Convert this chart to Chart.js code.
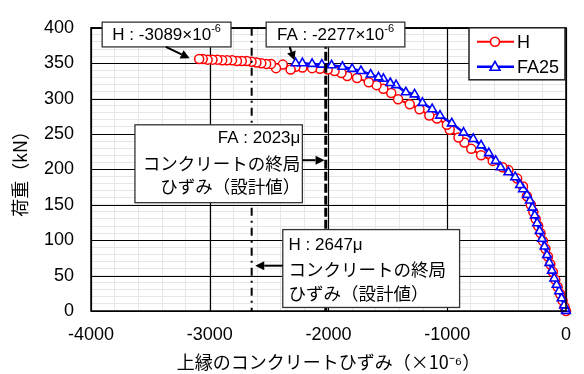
<!DOCTYPE html>
<html>
<head>
<meta charset="utf-8">
<script src="https://cdn.jsdelivr.net/npm/chart.js@4.4.1/dist/chart.umd.min.js"></script>
<style>
    html, body { margin: 0; padding: 0; background: #fff; }
    #wrap { width: 584px; height: 374px; }
</style>
</head>
<body>
<div id="wrap"><canvas id="chart"></canvas></div>
<script>
// specimen H (red circles), loading order
const strainH = [0, -12, -29, -49, -70, -90, -111, -132, -152, -173, -194, -214, -234, -255, -275, -296, -329, -362,
    -411, -485, -535, -617, -715, -798, -855, -905, -979, -1003, -1086, -1151, -1234, -1316, -1414, -1472, -1538,
    -1595, -1661, -1760, -1842, -1891, -1949, -2007, -2072, -2138, -2220, -2278, -2319, -2385, -2442, -2484, -2525,
    -2566, -2607, -2648, -2689, -2730, -2771, -2812, -2854, -2895, -2936, -2977, -3018, -3059, -3089];
const loadH = [0, 6, 15, 24, 34, 44, 55, 66, 77, 88, 99, 110, 120, 130, 140, 150, 162, 176,
    187, 199, 203, 212, 220, 229, 238, 245, 256, 263, 272, 276, 285, 292, 299, 308, 314,
    319, 323, 329, 332, 336, 339, 341, 342, 343, 344, 345, 341, 348, 343, 349, 349,
    350, 351, 352, 353, 353, 353, 354, 354, 354, 355, 355, 355, 356, 356];

// specimen FA25 (blue triangles), loading order
const strainFA = [0, -5, -16, -37, -58, -79, -99, -119, -140, -160, -181, -202, -222, -243, -263, -283, -304, -329,
    -362, -387, -428, -485, -551, -592, -650, -715, -781, -863, -962, -1061, -1127, -1209, -1275, -1349, -1431,
    -1480, -1538, -1579, -1645, -1727, -1801, -1883, -1974, -2056, -2138, -2220, -2277];
const loadFA = [0, 3, 8, 18, 28, 37, 46, 57, 68, 79, 91, 102, 113, 124, 135, 146, 156, 164,
    172, 178, 189, 196, 203, 212, 223, 234, 243, 252, 265, 276, 285, 294, 306, 309, 319,
    322, 328, 330, 334, 339, 342, 345, 347, 348, 349, 350, 350];

const seriesNames = ['H', 'FA25'];
const ultimateH = -2647;   // design ultimate strain, H
const ultimateFA = -2023;  // design ultimate strain, FA
const peakH = [-3089, 356];
const peakFA = [-2277, 350];
const majorX = 1000, majorY = 50;

const numFont = '"Liberation Sans", Arial, sans-serif';
const jpFont = '"Noto Sans CJK JP", sans-serif';

function drawArrow(ctx, x0, y0, x1, y1) {
    const ang = Math.atan2(y1 - y0, x1 - x0);
    const len = 9, hw = 4.5;
    const bx = x1 - len * Math.cos(ang), by = y1 - len * Math.sin(ang);
    ctx.beginPath();
    ctx.moveTo(x0, y0);
    ctx.lineTo(bx, by);
    ctx.lineWidth = 2;
    ctx.strokeStyle = '#000';
    ctx.stroke();
    ctx.beginPath();
    ctx.moveTo(x1, y1);
    ctx.lineTo(bx + hw * Math.sin(ang), by - hw * Math.cos(ang));
    ctx.lineTo(bx - hw * Math.sin(ang), by + hw * Math.cos(ang));
    ctx.closePath();
    ctx.fillStyle = '#000';
    ctx.fill();
}

function drawBox(ctx, x, y, x1, x2, y1, y2) {
    const l = x.getPixelForValue(x1), r = x.getPixelForValue(x2);
    const t = y.getPixelForValue(y2), b = y.getPixelForValue(y1);
    ctx.fillStyle = '#fff';
    ctx.fillRect(l, t, r - l, b - t);
    ctx.lineWidth = 1.3;
    ctx.strokeStyle = '#333';
    ctx.strokeRect(l, t, r - l, b - t);
    ctx.fillStyle = '#000';
}

// label like "H : -3089×10^-6", centred on cx
function drawSciLabel(ctx, prefix, cx, cy) {
    const main = prefix + '×10';
    ctx.font = '17px ' + numFont;
    const w1 = ctx.measureText(main).width;
    ctx.font = '11px ' + numFont;
    const w2 = ctx.measureText('-6').width;
    let sx = cx - (w1 + w2) / 2;
    ctx.fillStyle = '#000';
    ctx.textAlign = 'left';
    ctx.textBaseline = 'middle';
    ctx.font = '17px ' + numFont;
    ctx.fillText(main, sx, cy);
    ctx.font = '11px ' + numFont;
    ctx.fillText('-6', sx + w1, cy - 6);
}

const overlay = {
    id: 'overlay',
    beforeDatasetsDraw(chart) {
        // keep the major grid lines unbroken by the minor ones
        const { ctx, chartArea: a, scales: { x, y } } = chart;
        ctx.save();
        ctx.strokeStyle = '#000';
        ctx.lineWidth = 1.2;
        x.ticks.forEach(t => {
            if (Math.round(t.value) % majorX !== 0) return;
            const px = Math.round(x.getPixelForValue(t.value)) + 0.5;
            ctx.beginPath(); ctx.moveTo(px, a.top); ctx.lineTo(px, a.bottom); ctx.stroke();
        });
        y.ticks.forEach(t => {
            if (Math.round(t.value) % majorY !== 0) return;
            const py = Math.round(y.getPixelForValue(t.value)) + 0.5;
            ctx.beginPath(); ctx.moveTo(a.left, py); ctx.lineTo(a.right, py); ctx.stroke();
        });
        ctx.restore();
    },
    afterDatasetsDraw(chart) {
        const { ctx, chartArea: a, scales: { x, y } } = chart;
        ctx.save();

        // design ultimate strain lines
        ctx.strokeStyle = '#000';
        ctx.lineWidth = 2;
        ctx.setLineDash([8, 5, 2, 5]);
        let px = x.getPixelForValue(ultimateH);
        ctx.beginPath(); ctx.moveTo(px, a.top); ctx.lineTo(px, a.bottom); ctx.stroke();
        ctx.lineWidth = 3;
        ctx.setLineDash([9, 3]);
        px = x.getPixelForValue(ultimateFA);
        ctx.beginPath(); ctx.moveTo(px, a.top); ctx.lineTo(px, a.bottom); ctx.stroke();
        ctx.setLineDash([]);

        // plot frame
        ctx.lineWidth = 1.5;
        ctx.strokeStyle = '#000';
        ctx.strokeRect(a.left, a.top, a.width, a.height);

        // peak strain callouts
        drawBox(ctx, x, y, -3906, -2821, 373, 408);
        drawSciLabel(ctx, 'H : ' + peakH[0], x.getPixelForValue(-3363), y.getPixelForValue(390));
        drawArrow(ctx, x.getPixelForValue(-3370), y.getPixelForValue(373),
            x.getPixelForValue(peakH[0] - 80), y.getPixelForValue(peakH[1] + 1));

        drawBox(ctx, x, y, -2525, -1357, 373, 408);
        drawSciLabel(ctx, 'FA : ' + peakFA[0], x.getPixelForValue(-1941), y.getPixelForValue(390));
        drawArrow(ctx, x.getPixelForValue(-2327), y.getPixelForValue(373),
            x.getPixelForValue(peakFA[0] - 10), y.getPixelForValue(peakFA[1] + 4));

        // FA ultimate strain box
        drawBox(ctx, x, y, -3630, -2220, 153, 263);
        ctx.textAlign = 'right';
        ctx.textBaseline = 'middle';
        let tx = x.getPixelForValue(-2237);
        ctx.font = '17px ' + numFont;
        ctx.fillText('FA : ' + (-ultimateFA) + 'μ', tx, y.getPixelForValue(244));
        ctx.font = '17.5px ' + jpFont;
        ctx.fillText('コンクリートの終局', tx, y.getPixelForValue(209));
        ctx.fillText('ひずみ（設計値）', tx, y.getPixelForValue(176));
        drawArrow(ctx, x.getPixelForValue(-2220), y.getPixelForValue(213),
            x.getPixelForValue(ultimateFA - 10), y.getPixelForValue(213));

        // H ultimate strain box
        drawBox(ctx, x, y, -2385, -896, 5, 115);
        ctx.textAlign = 'left';
        ctx.textBaseline = 'middle';
        tx = x.getPixelForValue(-2336);
        ctx.font = '17px ' + numFont;
        ctx.fillText('H : ' + (-ultimateH) + 'μ', tx, y.getPixelForValue(93));
        ctx.font = '17.5px ' + jpFont;
        ctx.fillText('コンクリートの終局', tx, y.getPixelForValue(59));
        ctx.fillText('ひずみ（設計値）', tx, y.getPixelForValue(25));
        drawArrow(ctx, x.getPixelForValue(-2385), y.getPixelForValue(64),
            x.getPixelForValue(ultimateH + 30), y.getPixelForValue(64));

        ctx.restore();
    },
    afterDraw(chart) {
        // legend box in the top right corner
        const { ctx, chartArea: a } = chart;
        const l = a.right - 97, t = a.top;
        ctx.save();
        ctx.fillStyle = '#fff';
        ctx.fillRect(l, t, 96, 52);
        ctx.strokeStyle = '#222';
        ctx.lineWidth = 1.5;
        ctx.strokeRect(l, t, 96, 52);
        chart.data.datasets.slice().reverse().forEach((ds, i) => {
            const cy = t + 14 + i * 25;
            ctx.strokeStyle = ds.borderColor;
            ctx.lineWidth = ds.borderWidth;
            ctx.beginPath(); ctx.moveTo(l + 8, cy); ctx.lineTo(l + 45, cy); ctx.stroke();
            ctx.fillStyle = '#fff';
            ctx.lineWidth = 1.6;
            ctx.beginPath();
            if (ds.pointStyle === 'circle') {
                ctx.arc(l + 26, cy, 4.5, 0, Math.PI * 2);
            } else {
                ctx.moveTo(l + 26, cy - 5.5);
                ctx.lineTo(l + 31, cy + 3.5);
                ctx.lineTo(l + 21, cy + 3.5);
                ctx.closePath();
            }
            ctx.fill(); ctx.stroke();
            ctx.fillStyle = '#000';
            ctx.font = '18px ' + numFont;
            ctx.textAlign = 'left';
            ctx.textBaseline = 'middle';
            ctx.fillText(ds.label, l + 48, cy + 1);
        });
        ctx.restore();
    }
};

const ctx = document.getElementById('chart');
new Chart(ctx, {
    type: 'scatter',
    data: {
        datasets: [
            {
                label: seriesNames[1],
                data: strainFA.map((v, i) => ({ x: v, y: loadFA[i] })),
                showLine: true,
                borderColor: '#0000ff',
                borderWidth: 2.5,
                pointStyle: 'triangle',
                pointRadius: 5,
                pointBorderWidth: 1.6,
                pointBackgroundColor: '#fff',
                clip: 8
            },
            {
                label: seriesNames[0],
                data: strainH.map((v, i) => ({ x: v, y: loadH[i] })),
                showLine: true,
                borderColor: '#ff0000',
                borderWidth: 2,
                pointStyle: 'circle',
                pointRadius: 4.5,
                pointBorderWidth: 1.5,
                pointBackgroundColor: '#fff',
                clip: 8
            }
        ]
    },
    options: {
        responsive: true,
        maintainAspectRatio: false,
        animation: false,
        layout: { padding: { top: 13, right: 7, left: 0, bottom: 0 } },
        plugins: {
            legend: { display: false },
            tooltip: { enabled: false }
        },
        scales: {
            x: {
                type: 'linear',
                min: -4000,
                max: 0,
                afterFit: s => { s.height = 63; },
                ticks: {
                    stepSize: 200,
                    autoSkip: false,
                    maxRotation: 0,
                    padding: 13,
                    color: '#000',
                    font: { family: numFont, size: 18 },
                    callback: v => Math.round(v) % majorX === 0 ? `${Math.round(v)}` : ''
                },
                grid: {
                    drawTicks: false,
                    color: '#e6e6e6',
                    lineWidth: 1
                },
                border: { display: false },
                title: {
                    display: true,
                    text: '上縁のコンクリートひずみ（×10⁻⁶）',
                    color: '#000',
                    font: { family: jpFont, size: 18 },
                    padding: { top: 0, bottom: 1 }
                }
            },
            y: {
                min: 0,
                max: 400,
                afterFit: s => { s.width = 91; },
                ticks: {
                    stepSize: 10,
                    autoSkip: false,
                    padding: 17,
                    color: '#000',
                    font: { family: numFont, size: 18 },
                    callback: v => Math.round(v) % majorY === 0 ? `${Math.round(v)}` : ''
                },
                grid: {
                    drawTicks: false,
                    color: '#e6e6e6',
                    lineWidth: 1
                },
                border: { display: false },
                title: {
                    display: true,
                    text: '荷重（kN）',
                    color: '#000',
                    font: { family: jpFont, size: 18 },
                    padding: { top: 9, bottom: 0 }
                }
            }
        }
    },
    plugins: [overlay]
});
</script>
</body>
</html>
